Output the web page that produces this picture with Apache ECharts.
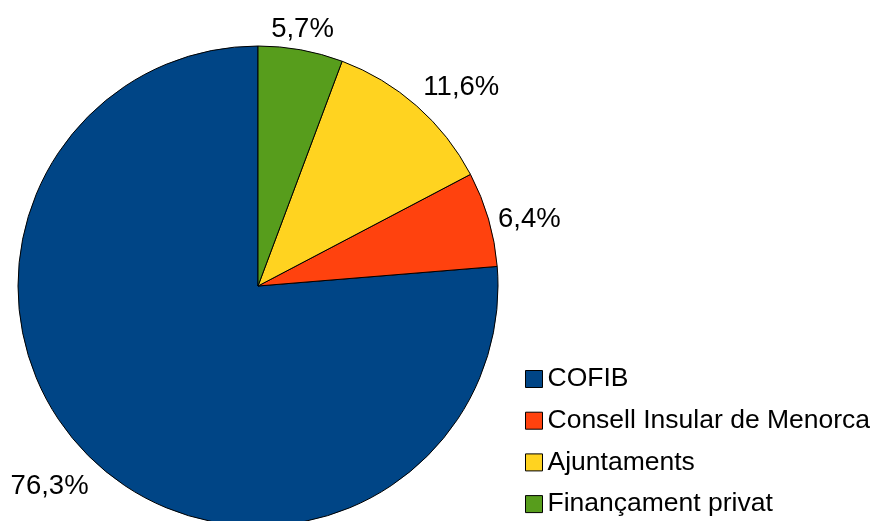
<!DOCTYPE html>
<html>
<head>
<meta charset="utf-8">
<script src="https://cdn.jsdelivr.net/npm/echarts@6/dist/echarts.min.js"></script>
<style>html,body{margin:0;padding:0;background:#fff}#c{width:875px;height:521px}</style>
</head>
<body>
<div id="c"></div>
<script>
const categories = ['COFIB', 'Consell Insular de Menorca', 'Ajuntaments', 'Finançament privat'];
const values = [76.3, 6.4, 11.6, 5.7];
const labels = ['76,3%', '6,4%', '11,6%', '5,7%'];
const colors = ['#004586', '#ff420e', '#ffd320', '#579d1c'];

const CX = 258, CY = 286, R = 240, LABEL_DIST = 250;
const total = values.reduce((a, b) => a + b, 0);

const chart = echarts.init(document.getElementById('c'));
chart.setOption({
  animation: false,
  backgroundColor: '#ffffff',
  textStyle: { fontFamily: 'Liberation Sans' },
  legend: {
    orient: 'vertical',
    left: 525,
    top: 365.5,
    padding: 0,
    height: 160,
    itemWidth: 17,
    itemHeight: 17,
    itemGap: 14.7,
    icon: 'rect',
    itemStyle: { borderColor: '#000', borderWidth: 1 },
    textStyle: { fontFamily: 'Liberation Sans', fontSize: 26.5, lineHeight: 26, color: '#000' },
    data: categories
  },
  series: [{
    type: 'pie',
    center: [CX, CY],
    radius: [0, R],
    startAngle: 90,
    clockwise: false,
    avoidLabelOverlap: false,
    itemStyle: { borderColor: '#000', borderWidth: 1 },
    label: {
      show: true,
      position: 'outside',
      fontFamily: 'Liberation Sans',
      fontSize: 27.5,
      color: '#000',
      formatter: p => labels[p.dataIndex]
    },
    labelLine: { show: false, length: 5, length2: 0 },
    labelLayout: function (p) {
      let cum = 0;
      for (let i = 0; i < p.dataIndex; i++) cum += values[i];
      const mid = (cum + values[p.dataIndex] / 2) / total * 360; // counterclockwise from top
      const rad = mid * Math.PI / 180;
      const ux = -Math.sin(rad), uy = -Math.cos(rad);
      const x = CX + LABEL_DIST * ux, y = CY + LABEL_DIST * uy + 3;
      const align = ux > 0.38 ? 'left' : (ux < -0.38 ? 'right' : 'center');
      const verticalAlign = uy < -0.38 ? 'bottom' : (uy > 0.38 ? 'top' : 'middle');
      return { x: x, y: y, align: align, verticalAlign: verticalAlign };
    },
    data: categories.map((c, i) => ({ name: c, value: values[i], itemStyle: { color: colors[i] } }))
  }]
});
</script>
</body>
</html>
